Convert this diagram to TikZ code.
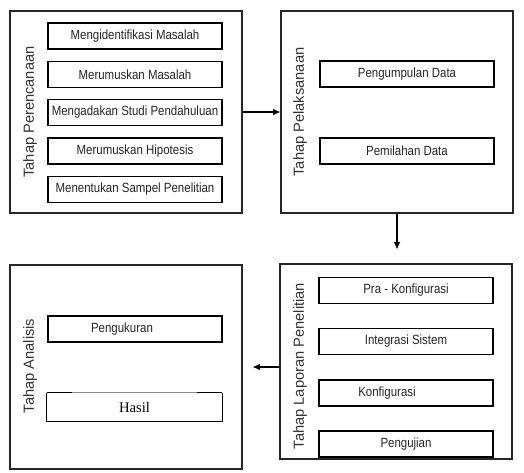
\documentclass[tikz,border=0pt]{standalone}
\usepackage{fontspec}
\setmainfont{Liberation Sans}
\newfontfamily\innerfont[FakeStretch=0.86]{Liberation Sans}
\newfontfamily\serffont{Liberation Serif}
\usetikzlibrary{arrows.meta}
\begin{document}
\begin{tikzpicture}[x=0.75pt,y=-0.75pt,
  outerbox/.style={draw=black!85, line width=0.8pt, rectangle, inner sep=0pt, minimum width=174pt},
  innerbox/.style={draw=black, line width=0.9pt, rectangle, inner sep=0pt, minimum width=130.5pt, minimum height=19.5pt, font=\innerfont\fontsize{10}{12}\selectfont, text=black!85},
  intext/.style={font=\innerfont\fontsize{10}{12}\selectfont, text=black!85},
  phaselabel/.style={rotate=90, font=\fontsize{11}{13}\selectfont, text=black!80},
  arr/.style={draw=black, line width=0.8pt, -{Latex[length=5.5pt,width=5pt]}}
]
\fill[white] (0,0) rectangle (524,472);
\useasboundingbox (0,0) rectangle (524,472);

% outer phase boxes
\node[outerbox, minimum height=151.5pt] (P1) at (126,112) {};
\node[outerbox, minimum height=151.5pt] (P2) at (397,112) {};
\node[outerbox, minimum height=146.25pt] (P4) at (396,361.5) {};
\node[outerbox, minimum height=153pt] (P3) at (126,367) {};

% phase labels
\node[phaselabel] (L1) at (30,112) {Tahap Perencanaan};
\node[phaselabel] (L2) at (300,112) {Tahap Pelaksanaan};
\node[phaselabel] (L4) at (300,366) {Tahap Laporan Penelitian};
\node[phaselabel] (L3) at (30,366) {Tahap Analisis};

% Perencanaan
\node[innerbox] (a1) at (135,36) {Mengidentifikasi Masalah};
\node[innerbox] (a2) at (135,74.5) {Merumuskan Masalah};
\node[innerbox] (a3) at (135,112.5) {Mengadakan Studi Pendahuluan};
\node[innerbox] (a4) at (135,151) {Merumuskan Hipotesis};
\node[innerbox] (a5) at (135,189.5) {Menentukan Sampel Penelitian};

% Pelaksanaan
\node[innerbox] (b1) at (407,74) {Pengumpulan Data};
\node[innerbox] (b2) at (407,151) {Pemilahan Data};

% Laporan Penelitian
\node[innerbox] (c1) at (406,290.5) {Pra - Konfigurasi};
\node[innerbox] (c2) at (406,341.5) {Integrasi Sistem};
\node[innerbox, label={[intext,xshift=-14.25pt]center:Konfigurasi}] (c3) at (406,393) {};
\node[innerbox] (c4) at (406,444) {Pengujian};

% Analisis
\node[innerbox, label={[intext,xshift=-9.75pt]center:Pengukuran}] (d1) at (135,329) {};
\node[rectangle, inner sep=0pt, minimum width=131.25pt, minimum height=21pt, font=\serffont\fontsize{11}{13}\selectfont] (d2) at (134.5,407) {Hasil};
\draw[black, line width=0.9pt] (d2.north west) -- (d2.south west) -- (d2.south east) -- (d2.north east);
\draw[black!45, line width=0.6pt] (d2.north west) -- (d2.north east);
\draw[black, line width=0.9pt] (d2.north west) -- ++(25,0);
\draw[black, line width=0.9pt] (d2.north east) -- ++(-25,0);

% connectors
\draw[arr] (P1.east) -- (P2.west);
\draw[arr, shorten >=10.5pt] (P2.south) -- (P2.south |- P4.north);
\draw[arr, shorten >=7.5pt] (P4.west |- P3.east) -- (P3.east);
\end{tikzpicture}
\end{document}
